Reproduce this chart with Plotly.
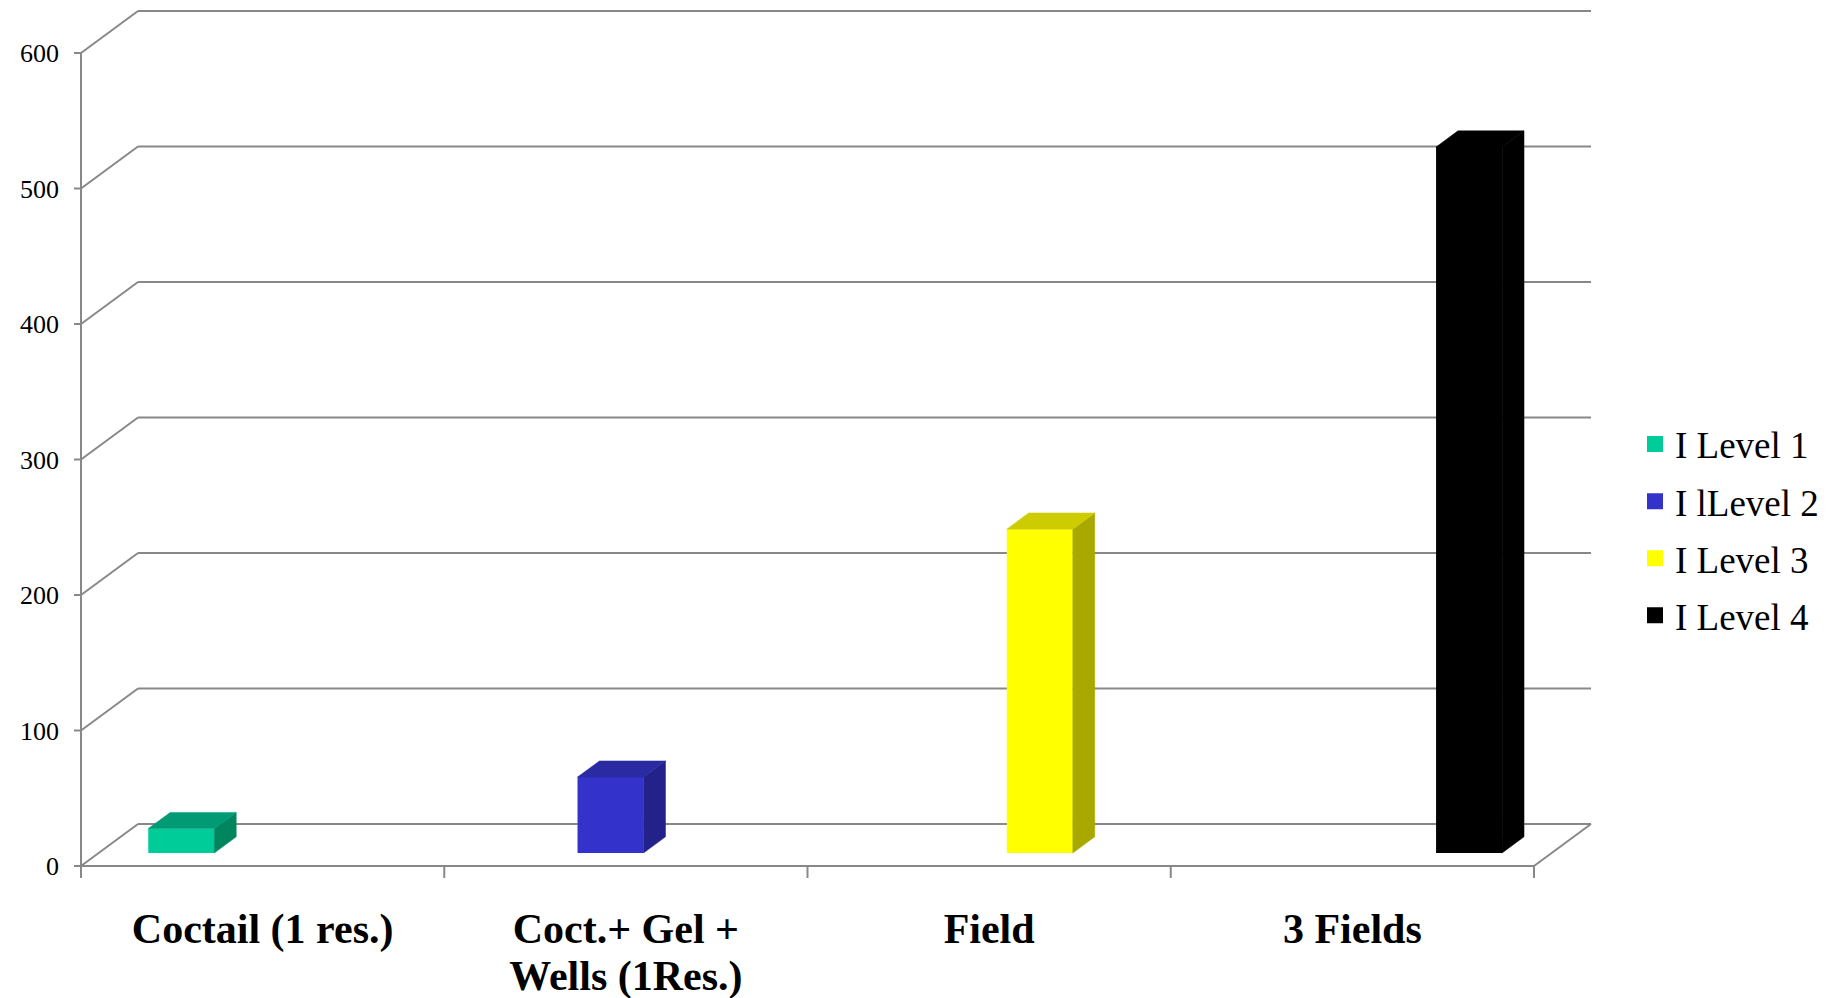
import plotly.graph_objects as go

# ---------------- data ----------------
categories = ["Coctail (1 res.)", "Coct.+ Gel +<br>Wells (1Res.)", "Field", "3 Fields"]
series_names = ["I Level 1", "I lLevel 2", "I Level 3", "I Level 4"]
series_category = [0, 1, 2, 3]          # category index holding each series' value
series_values = [18, 56, 239, 521]
y_ticks = [0, 100, 200, 300, 400, 500, 600]

front_colors = ["#00CC99", "#3333CC", "#FFFF00", "#000000"]
top_colors = ["#009A74", "#2A2AA2", "#CCCC00", "#000000"]
side_colors = ["#00865F", "#22228A", "#A8A800", "#000000"]

# ---------------- layout geometry ----------------
W, H = 1829, 998
PX_PER_CAT = 363.25
X_ORIGIN_PX = 81
PX_PER_UNIT = 1.355
Y_ORIGIN_PX = 866
PLOT_L, PLOT_R, PLOT_T, PLOT_B = 66, 1600, 4, 882

DX = 57 / PX_PER_CAT        # oblique depth offset (category units)
DY = 42 / PX_PER_UNIT       # oblique depth offset (value units)
BAR_GAP = 0.273
N_SLOTS = len(series_names)
F0, F1 = 0.31, 0.695        # bar front/back depth fractions

x_range = [(PLOT_L - X_ORIGIN_PX) / PX_PER_CAT, (PLOT_R - X_ORIGIN_PX) / PX_PER_CAT]
y_range = [(Y_ORIGIN_PX - PLOT_B) / PX_PER_UNIT, (Y_ORIGIN_PX - PLOT_T) / PX_PER_UNIT]
n_cat = len(categories)
ytick_len = 7 / PX_PER_CAT
xtick_len = 12 / PX_PER_UNIT

GRID = dict(color="#888888", width=2)
shapes = []


def seg(x0, y0, x1, y1):
    shapes.append(dict(type="line", xref="x", yref="y", x0=x0, y0=y0, x1=x1, y1=y1,
                       line=GRID, layer="below"))


ymax = max(y_ticks)
for t in y_ticks:
    seg(0, t, DX, t + DY)                 # left wall diagonal
    seg(DX, t + DY, n_cat + DX, t + DY)   # back wall line
    seg(-ytick_len, t, 0, t)              # tick mark
seg(0, 0, 0, ymax)                        # front value axis
seg(0, 0, n_cat, 0)                       # front floor edge
seg(n_cat, 0, n_cat + DX, DY)             # right floor edge
for c in range(n_cat + 1):
    seg(c, 0, c, -xtick_len)              # category tick marks

fig = go.Figure()

w = (1 - BAR_GAP) / N_SLOTS
for j, (cat, val) in enumerate(zip(series_category, series_values)):
    xc = cat + 0.5 + (j - (N_SLOTS - 1) / 2) * w
    xl, xr = xc - w / 2, xc + w / 2
    # side face
    fig.add_trace(go.Scatter(
        x=[xr + F0 * DX, xr + F1 * DX, xr + F1 * DX, xr + F0 * DX, xr + F0 * DX],
        y=[val + F0 * DY, val + F1 * DY, F1 * DY, F0 * DY, val + F0 * DY],
        fill="toself", fillcolor=side_colors[j], mode="lines",
        line=dict(color=side_colors[j], width=0.5), showlegend=False, hoverinfo="skip"))
    # top face
    fig.add_trace(go.Scatter(
        x=[xl + F0 * DX, xr + F0 * DX, xr + F1 * DX, xl + F1 * DX, xl + F0 * DX],
        y=[val + F0 * DY, val + F0 * DY, val + F1 * DY, val + F1 * DY, val + F0 * DY],
        fill="toself", fillcolor=top_colors[j], mode="lines",
        line=dict(color=top_colors[j], width=0.5), showlegend=False, hoverinfo="skip"))
    # front face
    fig.add_trace(go.Bar(
        x=[xc + F0 * DX], y=[val], base=[F0 * DY], width=[w],
        marker=dict(color=front_colors[j], line=dict(width=0)),
        name=series_names[j], showlegend=False))

# legend entries
for j, name in enumerate(series_names):
    fig.add_trace(go.Scatter(
        x=[None], y=[None], mode="markers", name=name, legendgroup=name,
        marker=dict(symbol="square", size=16, color=front_colors[j], line=dict(width=0))))

# category labels: first line on xaxis, second line (if any) on a matched xaxis2
label_lines = [c.split("<br>") for c in categories]
line1 = [ls[0] for ls in label_lines]
line2 = [ls[1] if len(ls) > 1 else "" for ls in label_lines]
tickpos = [c + 0.5 for c in range(n_cat)]
LABEL_FONT = dict(size=42, family="Liberation Serif", weight="bold", color="black")

# invisible helper trace on xaxis2 so the axis is drawn
fig.add_trace(go.Scatter(x=[None], y=[None], xaxis="x2", yaxis="y", showlegend=False,
                         hoverinfo="skip"))

fig.update_layout(
    width=W, height=H,
    margin=dict(l=PLOT_L, r=W - PLOT_R, t=PLOT_T, b=H - PLOT_B, pad=0, autoexpand=False),
    paper_bgcolor="white", plot_bgcolor="white",
    barmode="overlay",
    shapes=shapes,
    font=dict(family="Liberation Serif", color="black"),
    xaxis=dict(range=x_range, showgrid=False, zeroline=False, showline=False, automargin=False,
               tickmode="array", tickvals=tickpos, ticktext=line1,
               ticks="", tickfont=LABEL_FONT, ticklabelstandoff=18),
    xaxis2=dict(range=x_range, overlaying="x", anchor="y", side="bottom",
                showgrid=False, zeroline=False, showline=False, automargin=False,
                tickmode="array", tickvals=tickpos, ticktext=line2,
                ticks="", tickfont=LABEL_FONT, ticklabelstandoff=65),
    yaxis=dict(range=y_range, showgrid=False, zeroline=False, showline=False, automargin=False,
               tickmode="array", tickvals=y_ticks, ticks="",
               tickfont=dict(size=26, family="Liberation Serif"), ticklabelstandoff=6),
    legend=dict(x=(1635 - PLOT_L) / (PLOT_R - PLOT_L), xanchor="left",
                y=(PLOT_B - 530) / (PLOT_B - PLOT_T), yanchor="middle",
                font=dict(size=37, family="Liberation Serif"),
                traceorder="grouped", tracegroupgap=6, itemsizing="trace",
                bgcolor="rgba(0,0,0,0)"),
    showlegend=True,
)

fig.write_html("out.html")
